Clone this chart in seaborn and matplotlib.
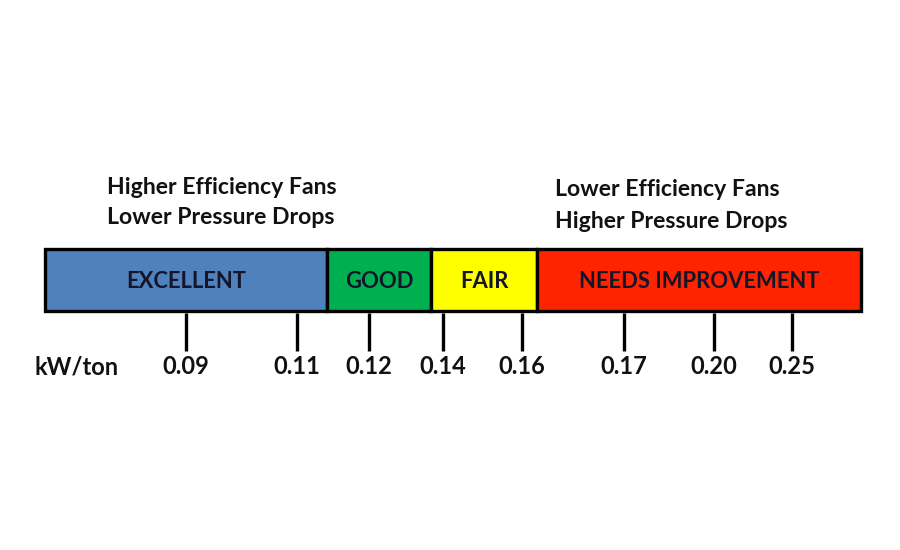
import matplotlib
matplotlib.use("Agg")
import matplotlib.pyplot as plt
import seaborn as sns

# ===============================
# DATA
# ===============================
categories = ["EXCELLENT", "GOOD", "FAIR", "NEEDS IMPROVEMENT"]
seg_colors = ["#4F81BD", "#00B050", "#FFFF00", "#FF2400"]
# segment boundaries along the scale (pixel units of the 900 wide figure)
scale_edges = [45, 327, 431, 537, 861]

tick_labels = ["0.09", "0.11", "0.12", "0.14", "0.16", "0.17", "0.20", "0.25"]
tick_pos = [186, 297, 369, 443, 522, 624, 714, 792]

left_note = ["Higher Efficiency Fans", "Lower Pressure Drops"]
right_note = ["Lower Efficiency Fans", "Higher Pressure Drops"]
unit_label = "kW/ton"

# ===============================
# FIGURE
# ===============================
sns.set_theme(style="white")
plt.rcParams["font.family"] = ["Lato", "DejaVu Sans"]

fig = plt.figure(figsize=(9, 5.5), dpi=100)
ax = fig.add_axes([0, 0, 1, 1])
ax.set_xlim(0, 900)
ax.set_ylim(550, 0)
ax.axis("off")

bar_y, bar_h = 280, 62
for i, name in enumerate(categories):
    left = scale_edges[i]
    width = scale_edges[i + 1] - left
    ax.barh(bar_y, width, left=left, height=bar_h, color=seg_colors[i],
            edgecolor="black", linewidth=2.4, zorder=2)
    ax.text(left + width / 2, bar_y + 1, name, ha="center", va="center",
            fontsize=15.8, fontweight="bold", color="#14142a", zorder=3)

# tick marks and labels
for x, lab in zip(tick_pos, tick_labels):
    ax.plot([x, x], [313, 351], color="black", lw=2.4, solid_capstyle="butt")
    ax.text(x, 367, lab, ha="center", va="center", fontsize=17,
            fontweight="bold", color="#111111")
ax.text(77, 367, unit_label, ha="center", va="center", fontsize=17,
        fontweight="bold", color="#111111")

# notes above bar
for j, line in enumerate(left_note):
    ax.text(107, 187 + j * 31, line, ha="left", va="center", fontsize=16.6,
            fontweight="bold", color="#111111")
for j, line in enumerate(right_note):
    ax.text(555, 190 + j * 31, line, ha="left", va="center", fontsize=16.6,
            fontweight="bold", color="#111111")

fig.savefig("out.png", dpi=100, facecolor="white")
